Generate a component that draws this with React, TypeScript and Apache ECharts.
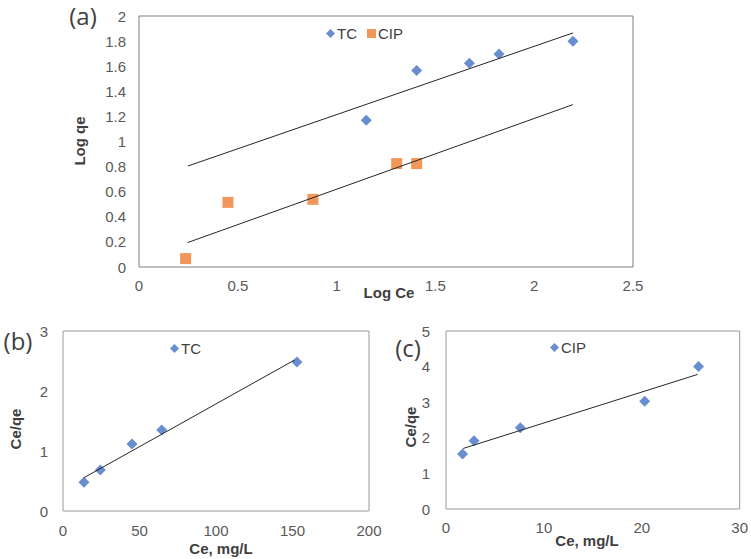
import React, { useEffect, useRef } from "react";
import * as echarts from "echarts";

// (a) Freundlich: log Ce vs log qe
const tcLogCe = [1.15, 1.405, 1.672, 1.822, 2.196];
const tcLogQe = [1.17, 1.565, 1.623, 1.697, 1.798];
const cipLogCe = [0.236, 0.45, 0.88, 1.304, 1.405];
const cipLogQe = [0.067, 0.515, 0.539, 0.824, 0.824];
const tcFitA = [[0.248, 0.805], [2.196, 1.865]];
const cipFitA = [[0.245, 0.194], [2.196, 1.294]];

// (b) Langmuir TC: Ce vs Ce/qe
const tcCe = [13.7, 24.4, 45.1, 64.5, 152.9];
const tcCeQe = [0.478, 0.683, 1.117, 1.35, 2.483];
const tcFitB = [[13.7, 0.555], [151.4, 2.517]];

// (c) Langmuir CIP: Ce vs Ce/qe
const cipCe = [1.69, 2.87, 7.59, 20.3, 25.8];
const cipCeQe = [1.545, 1.92, 2.28, 3.03, 4.0];
const cipFitC = [[1.75, 1.7], [25.7, 3.78]];

const FONT = "Liberation Sans";
const BLUE = "#4472C4";
const ORANGE = "#ED7D31";
const TICK = "#595959";
const TITLE = "#404040";

export default function App() {
  const ref = useRef<HTMLDivElement>(null);
  useEffect(() => {
    if (!ref.current) return;
    const chart = echarts.init(ref.current, null, { renderer: "svg" });
    const zip = (xs: number[], ys: number[]) => xs.map((x, i) => [x, ys[i]]);
    const axisBase = (margin: number) => ({
      type: "value" as const,
      axisLine: { show: false },
      axisTick: { show: false },
      splitLine: { show: false },
      axisLabel: { color: TICK, fontSize: 15, fontFamily: FONT, margin },
    });
    const fit = (data: number[][], xi: number) => ({
      type: "line",
      xAxisIndex: xi,
      yAxisIndex: xi,
      data,
      symbol: "none",
      silent: true,
      lineStyle: { color: "#262626", width: 1 },
    });
    const title = (text: string, x: number, y: number, rot = 0) => ({
      type: "text",
      x,
      y,
      rotation: rot,
      style: {
        text,
        fill: TITLE,
        font: `bold 15px ${FONT}`,
        align: "center",
        verticalAlign: "middle",
      },
    });
    const panel = (text: string, x: number, y: number) => ({
      type: "text",
      x,
      y,
      style: {
        text,
        fill: TITLE,
        font: `24px 'Open Sans'`,
        align: "center",
        verticalAlign: "middle",
      },
    });
    const legendFmt = (name: string) => name.split(" ")[0];
    const legendBase = {
      orient: "horizontal" as const,
      itemWidth: 9,
      itemHeight: 9,
      itemGap: 10,
      textStyle: { color: TITLE, fontSize: 15, fontFamily: FONT, padding: [0, 0, 0, -3] },
      formatter: legendFmt,
      selectedMode: false,
    };
    chart.setOption({
      animation: false,
      grid: [
        { left: 139, top: 16, width: 494, height: 251, show: true, borderColor: "#7f7f7f", borderWidth: 1 },
        { left: 63, top: 331, width: 306, height: 180, show: true, borderColor: "#9a9a9a", borderWidth: 1 },
        { left: 446, top: 331, width: 296, height: 178, show: true, borderColor: "#9a9a9a", borderWidth: 1 },
      ],
      xAxis: [
        { ...axisBase(11), gridIndex: 0, min: 0, max: 2.5, interval: 0.5 },
        { ...axisBase(12), gridIndex: 1, min: 0, max: 200, interval: 50 },
        { ...axisBase(11), gridIndex: 2, min: 0, max: 30, interval: 10 },
      ],
      yAxis: [
        { ...axisBase(13), gridIndex: 0, min: 0, max: 2, interval: 0.2 },
        { ...axisBase(15), gridIndex: 1, min: 0, max: 3, interval: 1 },
        { ...axisBase(16), gridIndex: 2, min: 0, max: 5, interval: 1 },
      ],
      legend: [
        { ...legendBase, left: 321, top: 21, data: [{ name: "TC", icon: "diamond" }, { name: "CIP", icon: "rect" }] },
        { ...legendBase, left: 165, top: 336, data: [{ name: "TC (b)", icon: "diamond" }] },
        { ...legendBase, left: 545, top: 335, data: [{ name: "CIP (c)", icon: "diamond" }] },
      ],
      series: [
        fit(tcFitA, 0),
        fit(cipFitA, 0),
        fit(tcFitB, 1),
        fit(cipFitC, 2),
        {
          name: "TC",
          type: "scatter",
          xAxisIndex: 0,
          yAxisIndex: 0,
          symbol: "diamond",
          symbolSize: 11,
          itemStyle: { color: BLUE },
          data: zip(tcLogCe, tcLogQe),
        },
        {
          name: "CIP",
          type: "scatter",
          xAxisIndex: 0,
          yAxisIndex: 0,
          symbol: "rect",
          symbolSize: 11,
          itemStyle: { color: ORANGE },
          data: zip(cipLogCe, cipLogQe),
        },
        {
          name: "TC (b)",
          type: "scatter",
          xAxisIndex: 1,
          yAxisIndex: 1,
          symbol: "diamond",
          symbolSize: 11,
          itemStyle: { color: BLUE },
          data: zip(tcCe, tcCeQe),
        },
        {
          name: "CIP (c)",
          type: "scatter",
          xAxisIndex: 2,
          yAxisIndex: 2,
          symbol: "diamond",
          symbolSize: 11,
          itemStyle: { color: BLUE },
          data: zip(cipCe, cipCeQe),
        },
      ],
      graphic: [
        panel("(a)", 83, 15),
        panel("(b)", 18, 340),
        panel("(c)", 408, 347),
        title("Log Ce", 389, 292),
        title("Log qe", 79, 141, Math.PI / 2),
        title("Ce, mg/L", 221, 548),
        title("Ce/qe", 15, 429, Math.PI / 2),
        title("Ce, mg/L", 587, 540),
        title("Ce/qe", 410, 427, Math.PI / 2),
      ],
    });
    return () => chart.dispose();
  }, []);
  return (
    <div
      ref={ref}
      style={{ position: "fixed", left: 0, top: 0, width: 751, height: 559, background: "#fff" }}
    />
  );
}
